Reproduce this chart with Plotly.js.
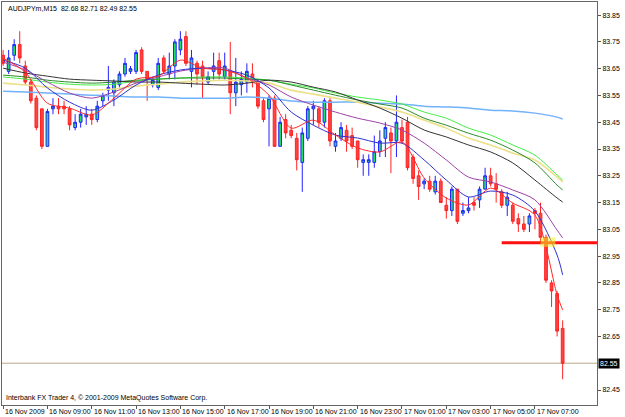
<!DOCTYPE html>
<html>
<head>
<meta charset="utf-8">
<script src="https://cdn.plot.ly/plotly-3.0.1.min.js"></script>
<style>html,body{margin:0;padding:0;background:#fff;}#chart{width:625px;height:417px;}</style>
</head>
<body>
<div id="chart"></div>
<script>
// AUDJPYm M15 bars, 16 Nov 2009 07:00 .. 17 Nov 2009 08:15
const symbol = 'AUDJPYm,M15';
const open = [
83.70,83.64,83.70,83.74,83.66,83.60,83.54,83.50,83.36,83.50,
83.51,83.51,83.50,83.43,83.45,83.47,83.48,83.46,83.53,83.57,
83.56,83.59,83.63,83.64,83.64,83.72,83.64,83.59,83.58,83.69,
83.63,83.66,83.72,83.77,83.64,83.67,83.66,83.60,83.64,83.68,
83.62,83.64,83.56,83.59,83.60,83.63,83.60,83.53,83.50,83.54,
83.36,83.46,83.42,83.39,83.30,83.39,83.50,83.50,83.45,83.53,
83.36,83.39,83.42,83.40,83.38,83.30,83.30,83.30,83.34,83.39,
83.41,83.38,83.43,83.45,83.32,83.25,83.22,83.23,83.19,83.23,
83.14,83.12,83.20,83.11,83.12,83.15,83.16,83.20,83.25,83.22,
83.19,83.14,83.14,83.09,83.07,83.07,83.12,83.11,83.02,82.85,
82.81,82.68];
const high = [
83.72,83.72,83.76,83.79,83.68,83.61,83.55,83.50,83.50,83.54,
83.54,83.53,83.51,83.48,83.50,83.51,83.50,83.53,83.56,83.66,
83.61,83.64,83.69,83.66,83.72,83.73,83.64,83.62,83.69,83.70,
83.71,83.76,83.79,83.79,83.72,83.68,83.68,83.64,83.71,83.71,
83.71,83.75,83.69,83.64,83.67,83.67,83.61,83.54,83.55,83.55,
83.47,83.48,83.44,83.41,83.43,83.51,83.53,83.51,83.54,83.54,
83.41,83.45,83.44,83.43,83.38,83.33,83.33,83.40,83.42,83.45,
83.43,83.55,83.46,83.47,83.33,83.27,83.24,83.25,83.25,83.24,
83.17,83.21,83.20,83.15,83.17,83.17,83.21,83.28,83.28,83.26,
83.20,83.19,83.15,83.11,83.10,83.11,83.13,83.15,83.03,82.86,
82.82,82.71];
const low = [
83.66,83.63,83.68,83.67,83.59,83.52,83.42,83.35,83.36,83.48,
83.48,83.48,83.42,83.42,83.43,83.44,83.44,83.45,83.51,83.53,
83.51,83.58,83.62,83.63,83.63,83.63,83.53,83.58,83.57,83.63,
83.61,83.61,83.70,83.66,83.58,83.59,83.54,83.59,83.61,83.61,
83.61,83.48,83.51,83.55,83.56,83.58,83.50,83.45,83.36,83.36,
83.36,83.39,83.39,83.27,83.19,83.38,83.44,83.43,83.43,83.36,
83.34,83.38,83.34,83.35,83.28,83.25,83.25,83.28,83.32,83.32,
83.26,83.32,83.37,83.27,83.22,83.16,83.20,83.19,83.18,83.15,
83.09,83.10,83.07,83.10,83.11,83.12,83.13,83.20,83.21,83.15,
83.13,83.10,83.07,83.04,83.04,83.04,83.05,83.00,82.85,82.76,
82.65,82.49];
const close = [
83.67,83.69,83.74,83.69,83.60,83.53,83.43,83.36,83.49,83.51,
83.50,83.50,83.44,83.45,83.48,83.48,83.46,83.51,83.55,83.58,
83.60,83.63,83.67,83.65,83.71,83.64,83.61,83.61,83.67,83.64,
83.66,83.75,83.76,83.67,83.69,83.63,83.62,83.62,83.66,83.63,
83.66,83.56,83.60,83.61,83.64,83.61,83.51,83.46,83.54,83.36,
83.45,83.41,83.40,83.31,83.41,83.50,83.51,83.45,83.53,83.38,
83.38,83.43,83.38,83.36,83.31,83.31,83.31,83.34,83.38,83.43,
83.38,83.45,83.38,83.28,83.24,83.21,83.23,83.20,83.23,83.15,
83.12,83.20,83.08,83.12,83.13,83.14,83.20,83.25,83.22,83.20,
83.14,83.17,83.08,83.07,83.05,83.10,83.11,83.02,82.86,82.82,
82.67,82.55];

// time axis labels (every 8 bars = 2 hours)
const timeLabels = ['16 Nov 2009','16 Nov 09:00','16 Nov 11:00','16 Nov 13:00','16 Nov 15:00',
  '16 Nov 17:00','16 Nov 19:00','16 Nov 21:00','16 Nov 23:00','17 Nov 01:00','17 Nov 03:00',
  '17 Nov 05:00','17 Nov 07:00'];
const barsPerLabel = 8;
// price axis labels
const priceTicks = [82.45,82.55,82.65,82.75,82.85,82.95,83.05,83.15,83.25,83.35,83.45,83.55,83.65,83.75,83.85];

// moving averages at these bars
const maBars = [0,4,8,12,16,20,24,28,32,36,40,44,48,52,56,60,64,68,72,76,80,84,88,92,96,100,101];
const maRed = [83.689,83.637,83.521,83.503,83.477,83.540,83.611,83.622,83.682,83.652,83.645,83.615,83.551,83.428,83.458,83.402,83.354,83.339,83.376,83.242,83.167,83.141,83.204,83.148,83.103,82.805,82.749];
const maBlue = [83.682,83.652,83.578,83.525,83.495,83.533,83.589,83.626,83.645,83.652,83.645,83.626,83.578,83.488,83.439,83.402,83.391,83.372,83.372,83.309,83.234,83.171,83.193,83.178,83.118,82.954,82.880];
const maPurple = [83.675,83.645,83.600,83.559,83.540,83.563,83.596,83.619,83.641,83.652,83.652,83.615,83.589,83.544,83.514,83.488,83.465,83.447,83.421,83.372,83.309,83.245,83.227,83.197,83.160,83.047,83.018];
const maBlack = [83.652,83.634,83.622,83.611,83.607,83.604,83.600,83.600,83.596,83.592,83.589,83.596,83.607,83.600,83.581,83.563,83.533,83.503,83.465,83.421,83.395,83.365,83.339,83.298,83.234,83.167,83.152];
const maDarkGreen = [83.626,83.619,83.607,83.600,83.596,83.600,83.607,83.611,83.615,83.615,83.615,83.611,83.607,83.589,83.570,83.551,83.533,83.518,83.503,83.465,83.439,83.409,83.383,83.346,83.298,83.215,83.197];
const maLime = [83.619,83.611,83.600,83.592,83.589,83.592,83.604,83.611,83.615,83.619,83.619,83.615,83.607,83.592,83.578,83.559,83.544,83.533,83.518,83.488,83.465,83.428,83.402,83.365,83.327,83.253,83.234];
const maYellow = [83.596,83.589,83.581,83.574,83.570,83.574,83.585,83.592,83.600,83.604,83.607,83.604,83.596,83.570,83.555,83.540,83.525,83.507,83.488,83.458,83.428,83.391,83.365,83.335,83.309,83.245,83.227];
const maLightBlue = [83.566,83.563,83.559,83.555,83.551,83.548,83.544,83.544,83.540,83.540,83.540,83.544,83.540,83.529,83.525,83.525,83.525,83.521,83.518,83.510,83.507,83.503,83.495,83.492,83.484,83.469,83.462];

// drawn objects
const levelPrice = 83.00;
const levelStartBar = 90;
const boxBars = [97, 99.7];
const boxPrices = [82.985, 83.02];

const bars = close.map((_, i) => i);
const last = close.length - 1;
const font = 'Liberation Sans, Arial, sans-serif';
const lastClose = close[last];

const traces = [{
  type: 'candlestick', x: bars, open: open, high: high, low: low, close: close,
  increasing: {line: {color: '#2222ff', width: 1}, fillcolor: '#22dd66'},
  decreasing: {line: {color: '#ff2222', width: 1}, fillcolor: '#ff4444'},
  whiskerwidth: 0, hoverinfo: 'skip'
}];
const maDefs = [
  [maLightBlue, '#72b2fb', 1.5],
  [maYellow, '#ece08a', 1.6],
  [maLime, '#44ee44', 1],
  [maDarkGreen, '#2a8a2a', 1],
  [maBlack, '#333333', 1],
  [maPurple, '#a040a8', 1],
  [maBlue, '#3030d0', 1],
  [maRed, '#ff2a2a', 1]
];
maDefs.forEach(([vals, col, w]) => traces.push({
  type: 'scatter', mode: 'lines', x: maBars, y: vals,
  line: {color: col, width: w, shape: 'spline', smoothing: 0.8}, hoverinfo: 'skip'
}));

const xMax = 107.2;
const tickBars = timeLabels.map((_, k) => k * barsPerLabel);
const annotations = [
  {xref: 'paper', yref: 'paper', x: 0, y: 1, xanchor: 'left', yanchor: 'top', xshift: 4, yshift: -1,
   showarrow: false, text: symbol + '  ' + [open[last], high[last], low[last], close[last]].map(v => v.toFixed(2)).join(' '),
   font: {family: font, size: 7, color: '#000'}},
  {xref: 'paper', yref: 'paper', x: 0, y: 0, xanchor: 'left', yanchor: 'bottom', xshift: 2, yshift: 1,
   showarrow: false, text: 'Interbank FX Trader 4, © 2001-2009 MetaQuotes Software Corp.',
   font: {family: font, size: 7, color: '#000'}},
  {xref: 'paper', yref: 'y', x: 1, y: lastClose, xanchor: 'left', yanchor: 'middle', xshift: 1,
   showarrow: false, text: lastClose.toFixed(2), bgcolor: '#000', borderpad: 1,
   font: {family: font, size: 7, color: '#fff'}}
];
timeLabels.forEach((t, k) => annotations.push({
  xref: 'x', yref: 'paper', x: tickBars[k], y: 0, xanchor: 'left', yanchor: 'top', xshift: 0, yshift: -1,
  showarrow: false, text: t, font: {family: font, size: 7, color: '#000'}
}));

const layout = {
  width: 625, height: 417,
  margin: {l: 2, r: 28, t: 2, b: 12, pad: 0},
  paper_bgcolor: '#ffffff', plot_bgcolor: '#ffffff',
  showlegend: false,
  font: {family: font, size: 7, color: '#000'},
  xaxis: {
    range: [-0.2, xMax], tickmode: 'array', tickvals: tickBars, showticklabels: false,
    ticks: 'outside', ticklen: 3, tickcolor: '#555',
    showgrid: false, zeroline: false, showline: true, mirror: true, linecolor: '#666', linewidth: 1,
    rangeslider: {visible: false}, fixedrange: true
  },
  yaxis: {
    side: 'right', range: [82.394, 83.899], tickmode: 'array',
    tickvals: priceTicks.filter(v => Math.abs(v - lastClose) > 0.005), tickformat: '.2f',
    ticks: 'outside', ticklen: 3, tickcolor: '#555',
    showgrid: false, zeroline: false, showline: true, mirror: true, linecolor: '#666', linewidth: 1,
    tickfont: {family: font, size: 7, color: '#000'}, fixedrange: true
  },
  shapes: [
    {type: 'line', xref: 'paper', x0: 0, x1: 1, yref: 'y', y0: lastClose, y1: lastClose,
     line: {color: '#bba98a', width: 1}, layer: 'below'},
    {type: 'line', xref: 'x', x0: levelStartBar, x1: xMax, yref: 'y', y0: levelPrice, y1: levelPrice,
     line: {color: '#ff1010', width: 3}},
    {type: 'rect', xref: 'x', x0: boxBars[0], x1: boxBars[1], yref: 'y', y0: boxPrices[0], y1: boxPrices[1],
     fillcolor: 'rgba(240,240,40,0.55)', line: {width: 0}}
  ],
  annotations: annotations
};
Plotly.newPlot('chart', traces, layout, {displayModeBar: false, staticPlot: true});
</script>
</body>
</html>
